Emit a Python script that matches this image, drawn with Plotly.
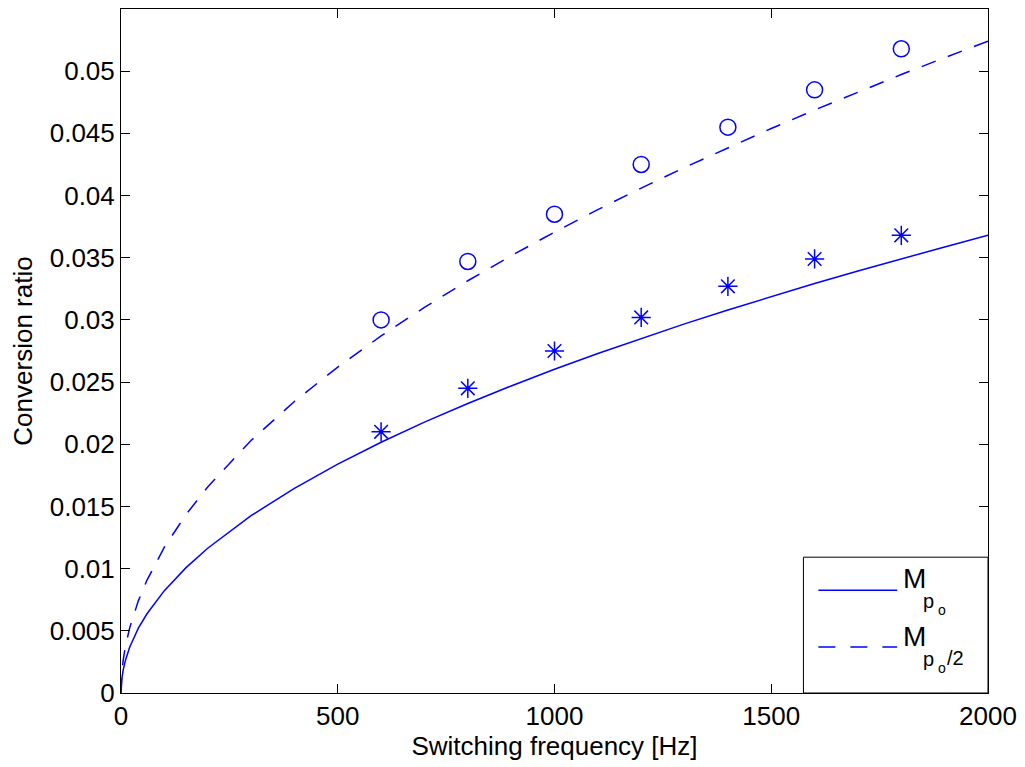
import plotly.graph_objects as go

# Continuous curves
freq_curve = [0, 2, 5, 10, 20, 40, 60, 100, 150, 200, 300, 400, 500, 600, 700, 800,
              900, 1000, 1100, 1200, 1300, 1400, 1500, 1600, 1700, 1800, 1900, 2000]
m_po = [0, 0.00116, 0.00184, 0.00260, 0.00368, 0.00521, 0.00637, 0.00823, 0.01008,
        0.01164, 0.01426, 0.01646, 0.01840, 0.02016, 0.02178, 0.02328, 0.02469,
        0.02603, 0.02730, 0.02851, 0.02968, 0.03080, 0.03187, 0.03292, 0.03393,
        0.03492, 0.03587, 0.03680]
m_po2 = [0, 0.00166, 0.00262, 0.00371, 0.00524, 0.00741, 0.00908, 0.01172, 0.01435,
         0.01657, 0.02030, 0.02344, 0.02621, 0.02871, 0.03101, 0.03315, 0.03516,
         0.03706, 0.03887, 0.04060, 0.04226, 0.04385, 0.04539, 0.04688, 0.04832,
         0.04973, 0.05109, 0.05242]

# Measured points
freq_pts = [600, 800, 1000, 1200, 1400, 1600, 1800]
meas_circle = [0.0300, 0.0347, 0.0385, 0.0425, 0.0455, 0.0485, 0.0518]
meas_star = [0.0210, 0.0245, 0.0275, 0.0302, 0.0327, 0.0349, 0.0368]

x_ticks = [0, 500, 1000, 1500, 2000]
y_ticks = [0, 0.005, 0.01, 0.015, 0.02, 0.025, 0.03, 0.035, 0.04, 0.045, 0.05]
y_tick_text = ["0", "0.005", "0.01", "0.015", "0.02", "0.025", "0.03", "0.035",
               "0.04", "0.045", "0.05"]

BLUE = "#0000ff"
FONT = "Liberation Sans, Arial, sans-serif"

W, H = 1025, 767
ML, MR, MT, MB = 121, 35, 8, 74
PW, PH = W - ML - MR, H - MT - MB


def px_x(px):
    return (px - ML) / PW


def px_y(py):
    return (H - MB - py) / PH


fig = go.Figure()
fig.add_trace(go.Scatter(x=freq_curve, y=m_po, mode="lines",
                         line=dict(color=BLUE, width=1.5), showlegend=False))
fig.add_trace(go.Scatter(x=freq_curve, y=m_po2, mode="lines",
                         line=dict(color=BLUE, width=1.5, dash="15px,13px"),
                         showlegend=False))
fig.add_trace(go.Scatter(x=freq_pts, y=meas_circle, mode="markers",
                         marker=dict(symbol="circle-open", size=16, color=BLUE,
                                     line=dict(width=1.5, color=BLUE)),
                         showlegend=False))
fig.add_trace(go.Scatter(x=freq_pts, y=meas_star, mode="markers",
                         marker=dict(symbol="asterisk-open", size=16, color=BLUE,
                                     line=dict(width=1.5, color=BLUE)),
                         showlegend=False))

axis_common = dict(showline=True, linecolor="black", linewidth=1, mirror="ticks",
                   ticks="inside", ticklen=9, tickcolor="black", tickwidth=1,
                   showgrid=False, zeroline=False,
                   tickfont=dict(family=FONT, size=26, color="black"))

# Manual legend (box, line samples, TeX-like labels)
shapes = [
    dict(type="rect", xref="paper", yref="paper", x0=px_x(805), x1=px_x(990),
         y0=px_y(693), y1=px_y(557), line=dict(color="black", width=1),
         fillcolor="white", layer="above"),
    dict(type="line", xref="paper", yref="paper", x0=px_x(820), x1=px_x(899),
         y0=px_y(590), y1=px_y(590), line=dict(color=BLUE, width=1.5), layer="above"),
    dict(type="line", xref="paper", yref="paper", x0=px_x(820), x1=px_x(899),
         y0=px_y(647), y1=px_y(647), line=dict(color=BLUE, width=1.5, dash="17px,15px"),
         layer="above"),
]

legend_texts = [
    ("M", 28, 904, 578.5), ("p", 20, 924, 600.5), ("o", 14, 939, 609.5),
    ("M", 28, 904, 636.5), ("p", 20, 924, 658.5), ("o", 14, 939, 668), ("/2", 20, 948, 657.5),
]
annotations = [
    dict(text=t, xref="paper", yref="paper", x=px_x(xp), y=px_y(yp),
         xanchor="left", yanchor="middle", showarrow=False, borderpad=0,
         font=dict(family=FONT, size=s, color="black"))
    for (t, s, xp, yp) in legend_texts
]

fig.update_layout(
    width=W, height=H,
    margin=dict(l=ML, r=MR, t=MT, b=MB),
    paper_bgcolor="white", plot_bgcolor="white",
    font=dict(family=FONT, size=26, color="black"),
    xaxis=dict(range=[0, 2000], tickvals=x_ticks, ticktext=[str(v) for v in x_ticks],
               title=dict(text="Switching frequency [Hz]", font=dict(size=26), standoff=3),
               **axis_common),
    yaxis=dict(range=[0, 0.055], tickvals=y_ticks, ticktext=y_tick_text,
               title=dict(text="Conversion ratio", font=dict(size=26), standoff=9),
               **axis_common),
    shapes=shapes,
    annotations=annotations,
    showlegend=False,
)

fig.write_html("out.html")
